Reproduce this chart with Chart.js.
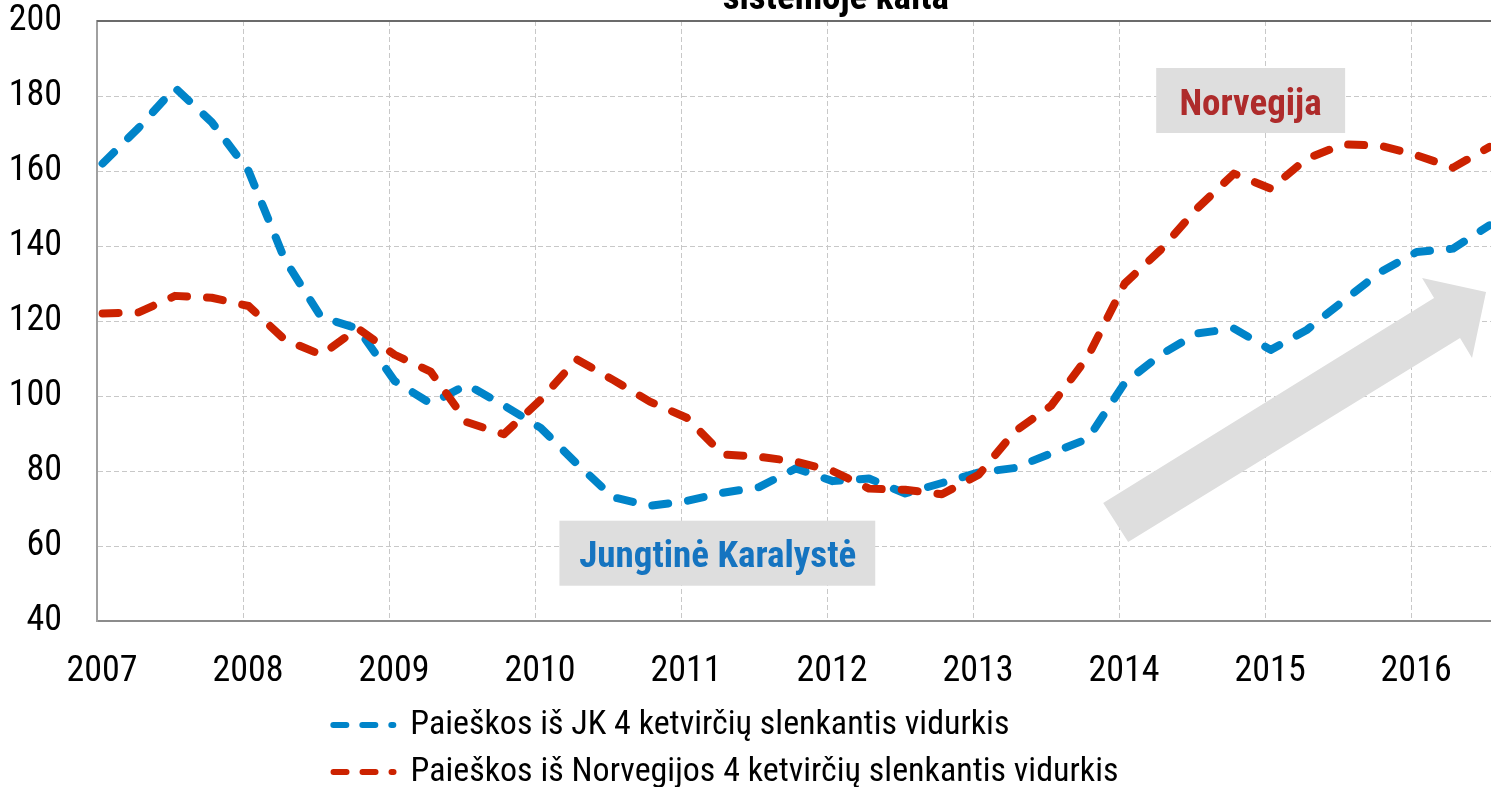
<!DOCTYPE html>
<html>
<head>
<meta charset="utf-8">
<script src="https://cdn.jsdelivr.net/npm/chart.js@4.4.1/dist/chart.umd.min.js"></script>
<style>
html,body{margin:0;padding:0;background:#fff;overflow:hidden}
#wrap{position:relative;width:1491px;height:787px}
</style>
</head>
<body>
<div id="wrap"><canvas id="c" width="1491" height="787"></canvas></div>
<script>
// ---- data ----
const quarters = [
  '2007-01-15','2007-04-15','2007-07-15','2007-10-15',
  '2008-01-15','2008-04-15','2008-07-15','2008-10-15',
  '2009-01-15','2009-04-15','2009-07-15','2009-10-15',
  '2010-01-15','2010-04-15','2010-07-15','2010-10-15',
  '2011-01-15','2011-04-15','2011-07-15','2011-10-15',
  '2012-01-15','2012-04-15','2012-07-15','2012-10-15',
  '2013-01-15','2013-04-15','2013-07-15','2013-10-15',
  '2014-01-15','2014-04-15','2014-07-15','2014-10-15',
  '2015-01-15','2015-04-15','2015-07-15','2015-10-15',
  '2016-01-15','2016-04-15','2016-07-15'
];
const ukSearches = [
  162, 171.5, 182.2, 173,
  160, 136.3, 121, 118,
  104, 98, 103, 97.5,
  91.5, 82, 73, 70.7,
  72, 74.2, 75.7, 80.7,
  77.3, 78, 74, 76.8,
  79.6, 80.8, 84.7, 88.6,
  103.5, 111, 116.7, 118,
  112.3, 117.6, 125.3, 133,
  138.4, 139.3, 145.5
];
const norwaySearches = [
  122, 122.3, 126.7, 126.2,
  124, 115, 111, 118,
  111, 106.5, 93, 89.8,
  99, 109.8, 104.3, 98.5,
  94.2, 84.4, 83.8, 82.5,
  80, 75.3, 75, 73.8,
  79, 90.5, 97.4, 110.5,
  130, 139, 150, 159.3,
  155.3, 163.3, 167.1, 166.8,
  164.2, 160.9, 166.4
];
const seriesNames = [
  'Paieškos iš JK 4 ketvirčių slenkantis vidurkis',
  'Paieškos iš Norvegijos 4 ketvirčių slenkantis vidurkis'
];
const yearTicks = [2007, 2008, 2009, 2010, 2011, 2012, 2013, 2014, 2015, 2016];
const valueTicks = [40, 60, 80, 100, 120, 140, 160, 180, 200];
const titleText = 'sistemoje kaita';
const labelTexts = ['Norvegija', 'Jungtinė Karalystė'];

// ---- annotation geometry (data coordinates) ----
const titlePos = { x: 2012.06, offsetAboveArea: 12 };
const labelBoxes = [
  { text: labelTexts[0], color: '#AE2B2B', x1: 2014.254, x2: 2015.548, yTop: 187.47, yBottom: 170.13, tx: 2014.9, ty: 174.9 },
  { text: labelTexts[1], color: '#1574C0', x1: 2010.167, x2: 2012.33, yTop: 66.75, yBottom: 49.41, tx: 2011.251, ty: 54.48 }
];
const arrowShape = [
  [2013.891, 71.47], [2016.157, 126.13], [2016.075, 131.47], [2016.513, 127.73],
  [2016.417, 110.13], [2016.335, 115.47], [2014.062, 61.07]
];

const FONT = "'Liberation Sans Narrow', 'Arial Narrow', 'Roboto Condensed', 'DejaVu Sans Condensed', 'Liberation Sans', sans-serif";
Chart.defaults.font.family = FONT;
Chart.defaults.color = '#000';

function toYear(q) {
  const [Y, M, D] = q.split('-').map(Number);
  const s = Date.UTC(Y, 0, 1), e = Date.UTC(Y + 1, 0, 1);
  return Y + (Date.UTC(Y, M - 1, D) - s) / (e - s);
}

const annotationPlugin = {
  id: 'annotations',
  beforeDatasetsDraw(chart) {
    const { ctx, scales: { x, y }, chartArea } = chart;
    ctx.save();
    // top frame line
    ctx.strokeStyle = '#6b6b6b';
    ctx.lineWidth = 2;
    ctx.beginPath();
    ctx.moveTo(chartArea.left, chartArea.top);
    ctx.lineTo(chartArea.right, chartArea.top);
    ctx.stroke();
    // arrow
    ctx.beginPath();
    arrowShape.forEach(([vx, vy], i) => {
      const px = x.getPixelForValue(vx), py = y.getPixelForValue(vy);
      if (i) ctx.lineTo(px, py); else ctx.moveTo(px, py);
    });
    ctx.closePath();
    ctx.fillStyle = '#dedede';
    ctx.fill();
    // labelled boxes
    labelBoxes.forEach(b => {
      const l = x.getPixelForValue(b.x1), r = x.getPixelForValue(b.x2);
      const t = y.getPixelForValue(b.yTop), bt = y.getPixelForValue(b.yBottom);
      ctx.fillStyle = '#dedede';
      ctx.fillRect(l, t, r - l, bt - t);
      ctx.fillStyle = b.color;
      ctx.font = 'bold 37px ' + FONT;
      ctx.textAlign = 'center';
      ctx.textBaseline = 'alphabetic';
      ctx.fillText(b.text, x.getPixelForValue(b.tx), y.getPixelForValue(b.ty));
    });
    // chart title (cut off by the top edge, as in the source image)
    ctx.fillStyle = '#000';
    ctx.font = 'bold 37px ' + FONT;
    ctx.textAlign = 'center';
    ctx.textBaseline = 'alphabetic';
    ctx.fillText(titleText, x.getPixelForValue(titlePos.x), chartArea.top - titlePos.offsetAboveArea);
    ctx.restore();
  }
};

const colors = ['#0084C9', '#CC2200'];

new Chart(document.getElementById('c'), {
  type: 'line',
  data: {
    datasets: [
      {
        label: seriesNames[0],
        data: quarters.map((q, i) => ({ x: toYear(q), y: ukSearches[i] })),
        borderColor: colors[0], backgroundColor: colors[0],
        borderWidth: 8, borderDash: [16, 20], borderCapStyle: 'round', borderJoinStyle: 'round',
        pointRadius: 0, pointHoverRadius: 0, tension: 0, fill: false, order: 2
      },
      {
        label: seriesNames[1],
        data: quarters.map((q, i) => ({ x: toYear(q), y: norwaySearches[i] })),
        borderColor: colors[1], backgroundColor: colors[1],
        borderWidth: 8, borderDash: [16, 20], borderCapStyle: 'round', borderJoinStyle: 'round',
        pointRadius: 0, pointHoverRadius: 0, tension: 0, fill: false, order: 1
      }
    ]
  },
  options: {
    responsive: false,
    animation: false,
    events: [],
    layout: { padding: { top: 21, left: 0, right: 0, bottom: 0 } },
    scales: {
      x: {
        type: 'linear',
        min: 2007, max: 2016.547,
        afterBuildTicks: s => { s.ticks = yearTicks.map(v => ({ value: v })); },
        afterFit: s => { s.height = 74; },
        grid: { color: '#c8c8c8', lineWidth: 1, drawTicks: false },
        border: { display: true, color: '#8c8c8c', width: 2, dash: [5, 3] },
        ticks: {
          font: { size: 36 }, color: '#000', padding: 29, labelOffset: 5,
          maxRotation: 0, autoSkip: false, callback: v => String(v)
        }
      },
      y: {
        type: 'linear',
        min: 40, max: 200,
        afterBuildTicks: s => { s.ticks = valueTicks.map(v => ({ value: v })); },
        afterFit: s => { s.width = 97; },
        grid: { color: '#c8c8c8', lineWidth: 1, drawTicks: true, tickLength: 35, tickColor: 'rgba(0,0,0,0)' },
        border: { display: true, color: '#a0a0a0', width: 2, dash: [5, 3] },
        ticks: { font: { size: 36, lineHeight: 1 }, color: '#000', padding: 0, callback: v => String(v) }
      }
    },
    plugins: {
      title: { display: false },
      tooltip: { enabled: false },
      legend: {
        display: true,
        position: 'bottom',
        align: 'center',
        maxHeight: 92,
        labels: {
          usePointStyle: true,
          pointStyle: 'line',
          pointStyleWidth: 60,
          font: { size: 34 },
          color: '#000',
          padding: 13,
          generateLabels: (chart) => {
            const ctx = chart.ctx;
            ctx.save();
            ctx.font = '34px ' + FONT;
            const widths = seriesNames.map(t => ctx.measureText(t).width);
            const nb = ctx.measureText('\u00a0').width || 8;
            ctx.restore();
            const target = Math.max(...widths) + 36;
            return chart.data.datasets.map((ds, i) => ({
              text: seriesNames[i] + '\u00a0'.repeat(Math.round((target - widths[i]) / nb)),
              fillStyle: ds.borderColor,
              strokeStyle: ds.borderColor,
              fontColor: '#000',
              lineWidth: 6,
              lineDash: [13, 16],
              lineCap: 'round',
              pointStyle: 'line',
              hidden: false,
              datasetIndex: i
            }));
          }
        }
      }
    }
  },
  plugins: [annotationPlugin]
});
</script>
</body>
</html>
